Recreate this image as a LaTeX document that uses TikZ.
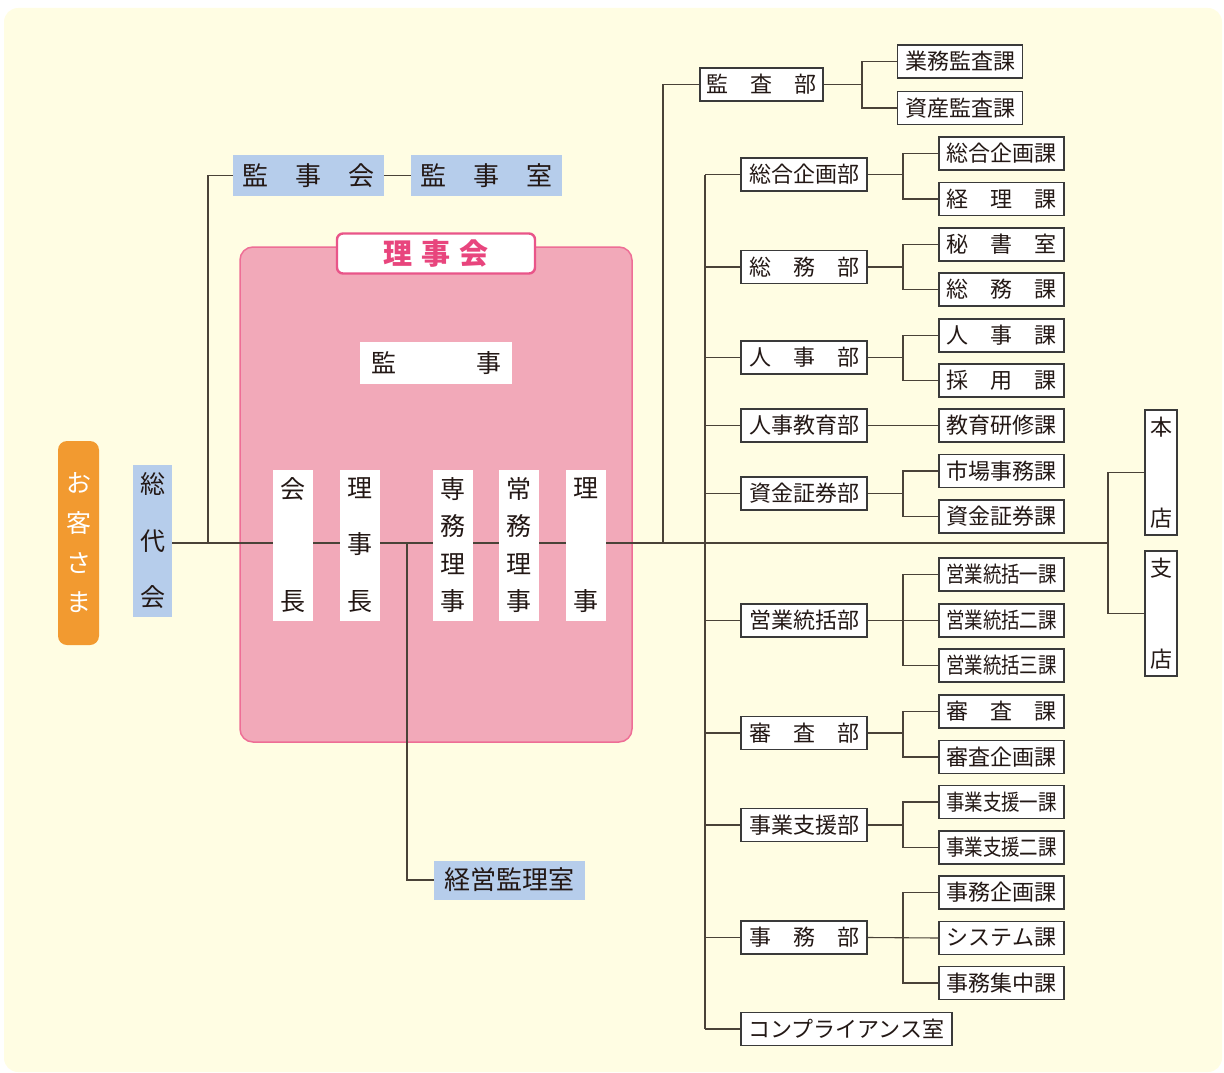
\documentclass[tikz,border=0pt]{standalone}
\usepackage{fontspec}
\usepackage{graphicx}
\newfontfamily\jp{Noto Sans CJK JP}
\definecolor{creamc}{HTML}{FFFDE3}
\definecolor{pinkf}{HTML}{F2A9B9}
\definecolor{pinkb}{HTML}{EE6E96}
\definecolor{titleb}{HTML}{E95589}
\definecolor{titlec}{HTML}{E8457D}
\definecolor{orangec}{HTML}{F29A30}
\definecolor{bluec}{HTML}{B6CDEB}
\definecolor{boxc}{HTML}{3A3A3A}
\definecolor{linec}{HTML}{4A4238}
\definecolor{textc}{HTML}{231815}
\newcommand\VC[1]{\hbox{#1}}
\newcommand\SP[2]{\makebox[#1]{#2}}
\pgfdeclarelayer{back}
\pgfdeclarelayer{lines}
\pgfsetlayers{back,lines,main}
\begin{document}
\begin{tikzpicture}[x=1pt,y=-1pt,
  conn/.style={draw=linec, line width=1.1pt},
  dept/.style={draw=boxc, line width=1.2pt, fill=white, text=textc, inner sep=0pt, minimum width=126pt, minimum height=33pt, font=\jp\fontsize{22}{22}\selectfont},
  sect/.style={dept, minimum width=125pt},
  bluebox/.style={fill=bluec, text=textc, inner sep=0pt, font=\jp\fontsize{26}{26}\selectfont},
  wbox/.style={fill=white, text=textc, inner sep=0pt, font=\jp\fontsize{25}{25}\selectfont},
  vbox/.style={wbox, minimum width=40pt, minimum height=151pt},
]
\useasboundingbox (0,0) rectangle (1224,1073);
\begin{pgfonlayer}{back}
\fill[creamc, rounded corners=14pt] (4,8) rectangle (1222,1072);
\node[draw=pinkb, fill=pinkf, line width=1.5pt, rounded corners=13pt, minimum width=392pt, minimum height=495pt, inner sep=0pt] (rijikai) at (436,494.5) {};
\end{pgfonlayer}

% title
\node[draw=titleb, fill=white, line width=2.4pt, rounded corners=6pt, minimum width=198pt, minimum height=40pt, inner sep=0pt, text=titlec, font=\jp\bfseries\fontsize{29}{29}\selectfont] (title) at (436,253.5) {\SP{105pt}{理\hfill 事\hfill 会}};

% left
\node[fill=orangec, rounded corners=9pt, minimum width=41pt, minimum height=204pt, inner sep=0pt, text=white, font=\jp\fontsize{25}{25}\selectfont] (okyaku) at (78.5,543) {\vbox to 139pt{\VC{お}\vfill\VC{客}\vfill\VC{さ}\vfill\VC{ま}}};
\node[bluebox, minimum width=39pt, minimum height=152pt, font=\jp\fontsize{25}{25}\selectfont] (sodai) at (152.5,541) {\vbox to 134pt{\VC{総}\vfill\VC{代}\vfill\VC{会}}};

\node[bluebox, minimum width=151pt, minimum height=41pt] (kanjikai) at (308.5,175.5) {\SP{132pt}{監\hfill 事\hfill 会}};
\node[bluebox, minimum width=151pt, minimum height=41pt] (kanjishitsu) at (486.5,175.5) {\SP{132pt}{監\hfill 事\hfill 室}};
\node[bluebox, minimum width=151pt, minimum height=39pt] (keiei) at (509.5,880) {経営監理室};

% inside board
\node[wbox, minimum width=152pt, minimum height=42pt] (kanji) at (436,363) {\SP{130pt}{監\hfill 事}};
\node[vbox] (kaicho) at (293,545) {\vbox to 133pt{\VC{会}\vfill\VC{長}}};
\node[vbox] (rijicho) at (360,545) {\vbox to 133pt{\VC{理}\vfill\VC{事}\vfill\VC{長}}};
\node[vbox] (senmu) at (453,545) {\vbox to 133pt{\VC{専}\vfill\VC{務}\vfill\VC{理}\vfill\VC{事}}};
\node[vbox] (jomu) at (519,545) {\vbox to 133pt{\VC{常}\vfill\VC{務}\vfill\VC{理}\vfill\VC{事}}};
\node[vbox] (riji) at (586,545) {\vbox to 133pt{\VC{理}\vfill\VC{事}}};

% branches
\node[dept, minimum width=32pt, minimum height=125pt] (honten) at (1161,472.5) {\vbox to 109pt{\VC{本}\vfill\VC{店}}};
\node[dept, minimum width=32pt, minimum height=125pt] (shiten) at (1161,613.5) {\vbox to 110pt{\VC{支}\vfill\VC{店}}};

% audit
\node[dept, minimum width=123pt] (dA) at (761.5,84.5) {\SP{110pt}{監\hfill 査\hfill 部}};
\node[sect] (sA1) at (960,61.5) {業務監査課};
\node[sect] (sA2) at (960,108) {資産監査課};

% departments
\node[dept] (d1) at (804,174.5) {総合企画部};
\node[dept] (d2) at (804,267) {\SP{110pt}{総\hfill 務\hfill 部}};
\node[dept] (d3) at (804,357.5) {\SP{110pt}{人\hfill 事\hfill 部}};
\node[dept] (d4) at (804,425.5) {人事教育部};
\node[dept] (d5) at (804,493.5) {資金証券部};
\node[dept] (d6) at (804,620.5) {営業統括部};
\node[dept] (d7) at (804,733) {\SP{110pt}{審\hfill 査\hfill 部}};
\node[dept] (d8) at (804,825) {事業支援部};
\node[dept] (d9) at (804,937.5) {\SP{110pt}{事\hfill 務\hfill 部}};
\node[dept, minimum width=211pt] (d10) at (846.5,1029) {コンプライアンス室};

% sections
\node[sect] (s11) at (1001.5,153.5) {総合企画課};
\node[sect] (s12) at (1001.5,199) {\SP{110pt}{経\hfill 理\hfill 課}};
\node[sect] (s21) at (1001.5,244.5) {\SP{110pt}{秘\hfill 書\hfill 室}};
\node[sect] (s22) at (1001.5,289.5) {\SP{110pt}{総\hfill 務\hfill 課}};
\node[sect] (s31) at (1001.5,335.5) {\SP{110pt}{人\hfill 事\hfill 課}};
\node[sect] (s32) at (1001.5,380.5) {\SP{110pt}{採\hfill 用\hfill 課}};
\node[sect] (s41) at (1001.5,425.5) {教育研修課};
\node[sect] (s51) at (1001.5,471) {市場事務課};
\node[sect] (s52) at (1001.5,516.5) {資金証券課};
\node[sect] (s61) at (1001.5,574.5) {\scalebox{0.84}[1]{営業統括一課}};
\node[sect] (s62) at (1001.5,620.5) {\scalebox{0.84}[1]{営業統括二課}};
\node[sect] (s63) at (1001.5,665.5) {\scalebox{0.84}[1]{営業統括三課}};
\node[sect] (s71) at (1001.5,711.5) {\SP{110pt}{審\hfill 査\hfill 課}};
\node[sect] (s72) at (1001.5,757) {審査企画課};
\node[sect] (s81) at (1001.5,802) {\scalebox{0.84}[1]{事業支援一課}};
\node[sect] (s82) at (1001.5,847.5) {\scalebox{0.84}[1]{事業支援二課}};
\node[sect] (s91) at (1001.5,892.5) {事務企画課};
\node[sect] (s92) at (1001.5,938) {システム課};
\node[sect] (s93) at (1001.5,983) {事務集中課};

% junction coordinates
\coordinate (j1) at (208,543);
\coordinate (j2) at (407,543);
\coordinate (j3) at (663,543);
\coordinate (jb) at (1108,543);
\coordinate (t2) at (705,0);
\coordinate (bA) at (862,0);
\coordinate (bx) at (903,0);

\begin{pgfonlayer}{lines}
\draw[conn] (sodai.east |- jb) -- (jb);
\draw[conn] (j1) |- (kanjikai.west);
\draw[conn] (kanjikai.east) -- (kanjishitsu.west);
\draw[conn] (j2) |- (keiei.west);
\draw[conn] (j3) |- (dA.west);
\draw[conn] (honten.west) -| (jb) |- (shiten.west);
% audit bracket
\draw[conn] (dA.east) -- (dA.east -| bA);
\draw[conn] (sA1.west) -- (sA1.west -| bA) -- (sA2.west -| bA) -- (sA2.west);
% trunk 2
\draw[conn] (d1.west -| t2) -- (d10.west -| t2);
\foreach \d in {d1,d2,d3,d4,d5,d6,d7,d8,d9,d10}{
  \draw[conn] (\d.west) -- (\d.west -| t2);
}
% two-section brackets
\foreach \d/\a/\b in {d1/s11/s12,d2/s21/s22,d3/s31/s32,d5/s51/s52,d7/s71/s72,d8/s81/s82}{
  \draw[conn] (\d.east) -- (\d.east -| bx);
  \draw[conn] (\a.west) -- (\a.west -| bx) -- (\b.west -| bx) -- (\b.west);
}
\draw[conn] (d4.east) -- (s41.west);
\foreach \d/\a/\m/\b in {d6/s61/s62/s63,d9/s91/s92/s93}{
  \draw[conn] (\d.east) -- (\m.west);
  \draw[conn] (\a.west) -- (\a.west -| bx) -- (\b.west -| bx) -- (\b.west);
}
\end{pgfonlayer}
\end{tikzpicture}
\end{document}
